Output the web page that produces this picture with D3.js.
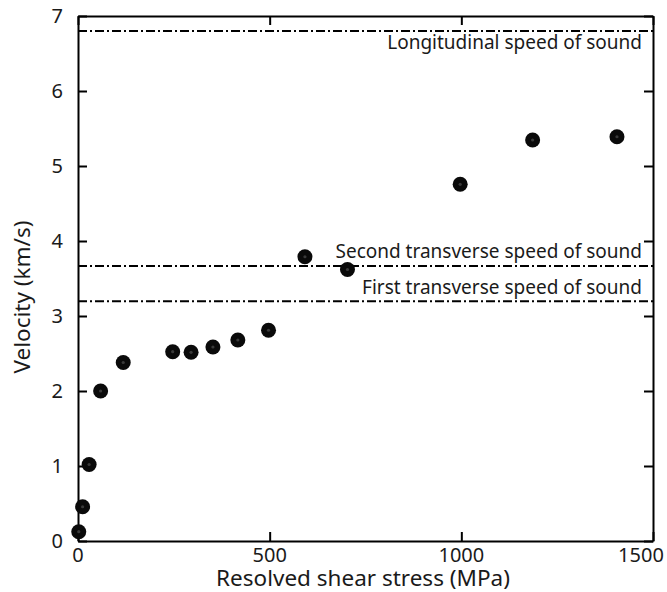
<!DOCTYPE html>
<html>
<head>
<meta charset="utf-8">
<script src="https://cdn.jsdelivr.net/npm/d3@7"></script>
<style>
  body { margin: 0; background: #fff; }
  text { font-family: "Noto Sans", sans-serif; fill: #1a1a1a; }
</style>
</head>
<body>
<div id="chart"></div>
<script>
// measured points: shear stress (MPa) vs velocity (km/s)
var stress = [2, 12, 29, 59, 118, 247, 295, 352, 417, 497, 592, 703, 997, 1186, 1406]
var velocity = [0.124, 0.457, 1.02, 2.00, 2.38, 2.524, 2.516, 2.587, 2.68, 2.81, 3.79, 3.62, 4.756, 5.347, 5.39]

// reference speeds of sound
var soundLabels = ["Longitudinal speed of sound", "Second transverse speed of sound", "First transverse speed of sound"]
var soundSpeeds = [6.80, 3.667, 3.196]

var xTicks = [0, 500, 1000, 1500]
var yTicks = [0, 1, 2, 3, 4, 5, 6, 7]

var width = 667, height = 592
var margin = {top: 16, right: 14, bottom: 51, left: 78}
var w = width - margin.left - margin.right
var h = height - margin.top - margin.bottom

var svg = d3.select("#chart").append("svg")
	.attr("width", width)
	.attr("height", height)

var g = svg.append("g").attr("transform", "translate(" + margin.left + "," + margin.top + ")")

var x = d3.scaleLinear().domain([0, 1500]).range([0, w])
var y = d3.scaleLinear().domain([0, 7]).range([h, 0])

// inward ticks on all four sides
var xAxis = d3.axisBottom(x).tickValues(xTicks).tickSize(-9).tickFormat("").tickSizeOuter(0)
var xTop = d3.axisTop(x).tickValues(xTicks).tickSize(-9).tickFormat("").tickSizeOuter(0)
var yAxis = d3.axisLeft(y).tickValues(yTicks).tickSize(-9).tickFormat("").tickSizeOuter(0)
var yRight = d3.axisRight(y).tickValues(yTicks).tickSize(-9).tickFormat("").tickSizeOuter(0)

g.append("g").attr("transform", "translate(0," + h + ")").call(xAxis)
g.append("g").call(xTop)
g.append("g").call(yAxis)
g.append("g").attr("transform", "translate(" + w + ",0)").call(yRight)

g.selectAll(".domain, .tick line")
	.attr("stroke", "#000")
	.attr("stroke-width", 2)

// tick labels
g.selectAll(".xlab")
	.data(xTicks)
	.enter().append("text")
	.attr("class", "xlab")
	.attr("x", function(d) { return x(d) })
	.attr("dx", function(d, i) { return i == xTicks.length - 1 ? -12 : 0 })
	.attr("y", h + 21)
	.attr("text-anchor", "middle")
	.style("font-size", "20px")
	.text(function(d) { return d })

g.selectAll(".ylab")
	.data(yTicks)
	.enter().append("text")
	.attr("class", "ylab")
	.attr("x", -15)
	.attr("y", function(d) { return y(d) })
	.attr("dy", "0.35em")
	.attr("text-anchor", "end")
	.style("font-size", "20px")
	.text(function(d) { return d })

// axis titles
svg.append("text")
	.attr("x", 363)
	.attr("y", 586)
	.attr("text-anchor", "middle")
	.style("font-size", "22.5px")
	.text("Resolved shear stress (MPa)")

svg.append("text")
	.attr("transform", "translate(30,297) rotate(-90)")
	.attr("text-anchor", "middle")
	.style("font-size", "22.5px")
	.text("Velocity (km/s)")

// speed of sound reference lines
g.selectAll(".sound")
	.data(soundSpeeds)
	.enter().append("line")
	.attr("class", "sound")
	.attr("x1", 0)
	.attr("x2", w)
	.attr("y1", function(d) { return y(d) })
	.attr("y2", function(d) { return y(d) })
	.attr("stroke", "#000")
	.attr("stroke-width", 2)
	.attr("stroke-dasharray", "9,3,2,3")

var labelShift = [18, -8, -7]

g.selectAll(".soundLabel")
	.data(soundLabels)
	.enter().append("text")
	.attr("class", "soundLabel")
	.attr("x", w - 11)
	.attr("y", function(d, i) { return y(soundSpeeds[i]) + labelShift[i] })
	.attr("text-anchor", "end")
	.style("font-size", "19px")
	.text(function(d) { return d })

// data points
var pts = stress.map(function(d, i) { return {x: d, y: velocity[i]} })

g.selectAll(".dot")
	.data(pts)
	.enter().append("circle")
	.attr("class", "dot")
	.attr("cx", function(d) { return x(d.x) })
	.attr("cy", function(d) { return y(d.y) })
	.attr("r", 7.5)
	.attr("fill", "#0a0a0a")

g.selectAll(".dotc")
	.data(pts)
	.enter().append("circle")
	.attr("class", "dotc")
	.attr("cx", function(d) { return x(d.x) })
	.attr("cy", function(d) { return y(d.y) })
	.attr("r", 1.6)
	.attr("fill", "#3a3a3a")
</script>
</body>
</html>
